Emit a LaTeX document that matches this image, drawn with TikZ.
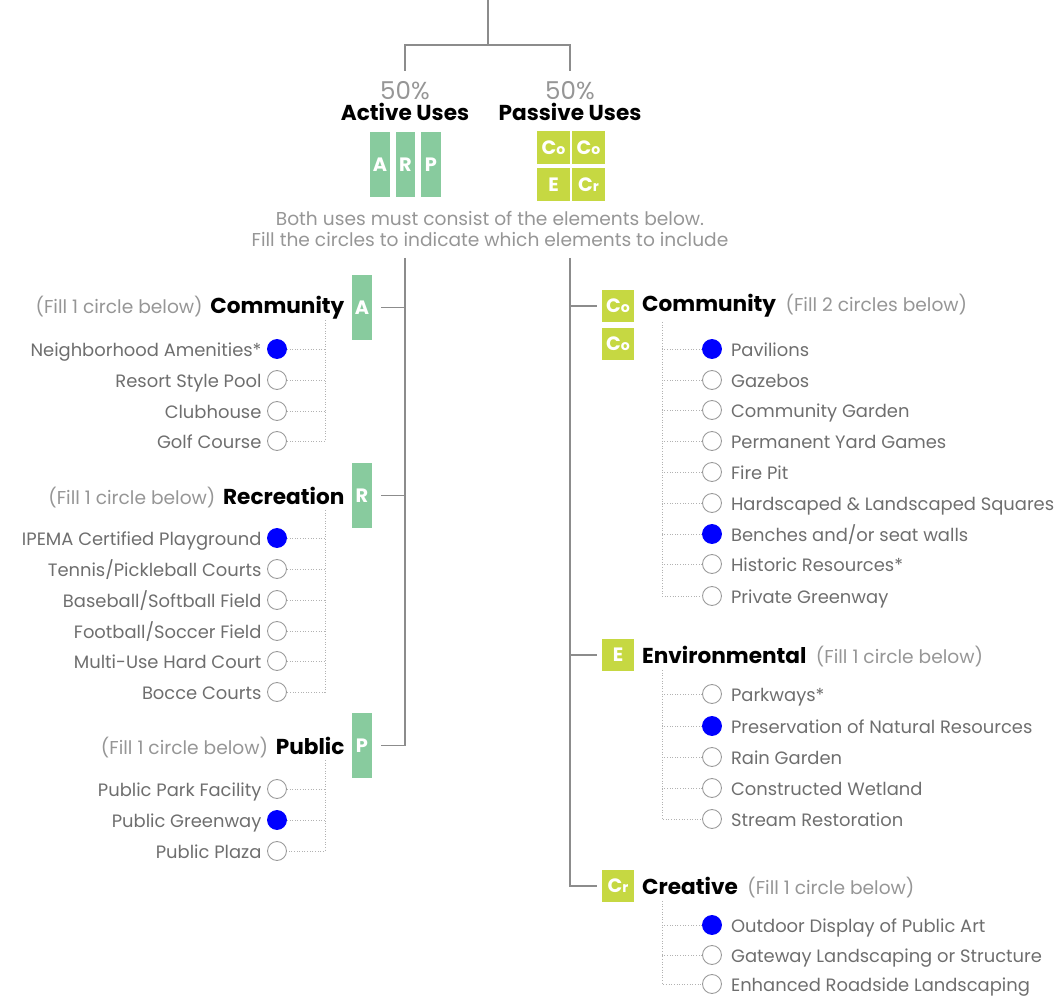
\documentclass[tikz,border=0pt]{standalone}
\usepackage{fontspec}
\setmainfont{Poppins}
\usetikzlibrary{positioning}

\definecolor{activegreen}{RGB}{136,203,158}
\definecolor{passivelime}{RGB}{198,216,66}
\definecolor{trunkgray}{RGB}{140,140,140}
\definecolor{labelgray}{RGB}{110,110,110}
\definecolor{hintgray}{RGB}{150,150,150}
\definecolor{pickblue}{RGB}{0,0,255}

\begin{document}
\begin{tikzpicture}[x=0.02cm,y=-0.02cm]
                \tikzset{trunk/.style = {draw=trunkgray, line width=1.1pt}}
                \tikzset{twig/.style = {draw=black!30, densely dotted, line width=0.5pt}}
                \tikzset{pick/.style = {shape=circle, draw=black!40, line width=0.5pt, minimum size=10.8pt, inner sep=0pt}}
                \tikzset{picked/.style = {pick, draw=pickblue, fill=pickblue}}
                \tikzset{item/.style = {text=labelgray, font=\fontsize{10.2}{12}\selectfont, inner sep=2pt, text height=9.2pt, text depth=1pt}}
                \tikzset{title/.style = {font=\fontsize{12.3}{14}\selectfont\bfseries, inner sep=1pt}}
                \tikzset{hint/.style = {text=hintgray, font=\fontsize{10.6}{12}\selectfont, inner sep=1pt}}
                \tikzset{abox/.style = {fill=activegreen, text=white, font=\fontsize{11}{12}\selectfont\bfseries, minimum width=11.3pt, minimum height=37pt, inner sep=0pt}}
                \tikzset{pbox/.style = {fill=passivelime, text=white, font=\fontsize{11}{12}\selectfont\bfseries, minimum size=18.7pt, inner sep=0pt}}
                \newcommand{\sm}[1]{{\fontsize{8}{9}\selectfont #1}}

                \useasboundingbox (0,0) rectangle (1059,999);

                % top split
                \coordinate (root) at (488,0);
                \coordinate (split) at (488,45);
                \node[text=hintgray, font=\fontsize{14}{16}\selectfont, inner sep=0pt] (pctA) at (405,91) {50\%};
                \node[text=hintgray, font=\fontsize{14}{16}\selectfont, inner sep=0pt] (pctP) at (570,91) {50\%};
                \node[title] (headA) at (405,112) {Active Uses};
                \node[title] (headP) at (570,112) {Passive Uses};

                \draw[trunk] (root) -- (split);
                \draw[trunk, shorten >=6pt] (split) -| (pctA.north);
                \draw[trunk, shorten >=6pt] (split) -| (pctP.north);

                \node[abox] (bA) at (380,164.5) {A};
                \node[abox] (bR) at (405.5,164.5) {R};
                \node[abox] (bP) at (431,164.5) {P};
                \node[pbox] (bCo) at (553.5,147.5) {C\sm{o}};
                \node[pbox] (bCoo) at (588.5,147.5) {C\sm{o}};
                \node[pbox] (bE) at (553.5,184.5) {E};
                \node[pbox] (bCr) at (588.5,184.5) {C\sm{r}};

                \node[hint, align=center, font=\fontsize{10.6}{12.4}\selectfont] (note) at (490,229) {Both uses must consist of the elements below.\\Fill the circles to indicate which elements to include};

                % active side
                \coordinate (lTop) at (405,258);
                \node[abox] (sA) at (362,307.5) {A};
                \node[abox] (sR) at (362,495.5) {R};
                \node[abox] (sP) at (362,745.5) {P};

                \draw[trunk] (lTop) |- ([xshift=5pt]sP.east);
                \draw[trunk] (lTop |- sA.east) -- ([xshift=5pt]sA.east);
                \draw[trunk] (lTop |- sR.east) -- ([xshift=5pt]sR.east);

                \node[title, left=3pt of sA] (tA) {Community};
                \node[hint, base left=2pt of tA] (hA) {(Fill 1 circle below)};
                \node[title, left=3pt of sR] (tR) {Recreation};
                \node[hint, base left=2pt of tR] (hR) {(Fill 1 circle below)};
                \node[title, left=3pt of sP] (tP) {Public};
                \node[hint, base left=2pt of tP] (hP) {(Fill 1 circle below)};

                \node[picked] (a1) at (277,349) {};
                \node[pick] (a2) at (277,380) {};
                \node[pick] (a3) at (277,411) {};
                \node[pick] (a4) at (277,441) {};
                \node[item, left=1pt of a1] {Neighborhood Amenities*};
                \node[item, left=1pt of a2] {Resort Style Pool};
                \node[item, left=1pt of a3] {Clubhouse};
                \node[item, left=1pt of a4] {Golf Course};
                \coordinate (aTop) at (325,320);
                \draw[twig] (aTop) |- (a4);
                \draw[twig] (a1) -- (a1 -| aTop);
                \draw[twig] (a2) -- (a2 -| aTop);
                \draw[twig] (a3) -- (a3 -| aTop);

                \node[picked] (r1) at (277,538) {};
                \node[pick] (r2) at (277,569) {};
                \node[pick] (r3) at (277,600) {};
                \node[pick] (r4) at (277,631) {};
                \node[pick] (r5) at (277,661) {};
                \node[pick] (r6) at (277,692) {};
                \node[item, left=1pt of r1] {IPEMA Certified Playground};
                \node[item, left=1pt of r2] {Tennis/Pickleball Courts};
                \node[item, left=1pt of r3] {Baseball/Softball Field};
                \node[item, left=1pt of r4] {Football/Soccer Field};
                \node[item, left=1pt of r5] {Multi-Use Hard Court};
                \node[item, left=1pt of r6] {Bocce Courts};
                \coordinate (rTop) at (325,510);
                \draw[twig] (rTop) |- (r6);
                \draw[twig] (r1) -- (r1 -| rTop);
                \draw[twig] (r2) -- (r2 -| rTop);
                \draw[twig] (r3) -- (r3 -| rTop);
                \draw[twig] (r4) -- (r4 -| rTop);
                \draw[twig] (r5) -- (r5 -| rTop);

                \node[pick] (p1) at (277,789) {};
                \node[picked] (p2) at (277,820) {};
                \node[pick] (p3) at (277,851) {};
                \node[item, left=1pt of p1] {Public Park Facility};
                \node[item, left=1pt of p2] {Public Greenway};
                \node[item, left=1pt of p3] {Public Plaza};
                \coordinate (pTop) at (325,760);
                \draw[twig] (pTop) |- (p3);
                \draw[twig] (p1) -- (p1 -| pTop);
                \draw[twig] (p2) -- (p2 -| pTop);

                % passive side
                \coordinate (mTop) at (570,258);
                \node[pbox] (sCo) at (618,306) {C\sm{o}};
                \node[pbox] (sCoo) at (618,344) {C\sm{o}};
                \node[pbox] (sE) at (618,655) {E};
                \node[pbox] (sCr) at (618,886) {C\sm{r}};

                \draw[trunk] (mTop) |- ([xshift=-2.5pt]sCr.west);
                \draw[trunk] (mTop |- sCo.west) -- ([xshift=-2.5pt]sCo.west);
                \draw[trunk] (mTop |- sE.west) -- ([xshift=-2.5pt]sE.west);

                \node[title, right=3pt of sCo] (tC) {Community};
                \node[hint, base right=3pt of tC] (hC) {(Fill 2 circles below)};
                \node[title, right=3pt of sE] (tE) {Environmental};
                \node[hint, base right=3pt of tE] (hE) {(Fill 1 circle below)};
                \node[title, right=3pt of sCr] (tCr) {Creative};
                \node[hint, base right=3pt of tCr] (hCr) {(Fill 1 circle below)};

                \node[picked] (c1) at (712,349) {};
                \node[pick] (c2) at (712,380) {};
                \node[pick] (c3) at (712,410) {};
                \node[pick] (c4) at (712,441) {};
                \node[pick] (c5) at (712,472) {};
                \node[pick] (c6) at (712,503) {};
                \node[picked] (c7) at (712,534) {};
                \node[pick] (c8) at (712,564) {};
                \node[pick] (c9) at (712,596) {};
                \node[item, right=3pt of c1] {Pavilions};
                \node[item, right=3pt of c2] {Gazebos};
                \node[item, right=3pt of c3] {Community Garden};
                \node[item, right=3pt of c4] {Permanent Yard Games};
                \node[item, right=3pt of c5] {Fire Pit};
                \node[item, right=3pt of c6] {Hardscaped \& Landscaped Squares};
                \node[item, right=3pt of c7] {Benches and/or seat walls};
                \node[item, right=3pt of c8] {Historic Resources*};
                \node[item, right=3pt of c9] {Private Greenway};
                \coordinate (cTop) at (662,322);
                \draw[twig] (cTop) |- (c9);
                \draw[twig] (c1) -- (c1 -| cTop);
                \draw[twig] (c2) -- (c2 -| cTop);
                \draw[twig] (c3) -- (c3 -| cTop);
                \draw[twig] (c4) -- (c4 -| cTop);
                \draw[twig] (c5) -- (c5 -| cTop);
                \draw[twig] (c6) -- (c6 -| cTop);
                \draw[twig] (c7) -- (c7 -| cTop);
                \draw[twig] (c8) -- (c8 -| cTop);

                \node[pick] (e1) at (712,694) {};
                \node[picked] (e2) at (712,726) {};
                \node[pick] (e3) at (712,757) {};
                \node[pick] (e4) at (712,788) {};
                \node[pick] (e5) at (712,819) {};
                \node[item, right=3pt of e1] {Parkways*};
                \node[item, right=3pt of e2] {Preservation of Natural Resources};
                \node[item, right=3pt of e3] {Rain Garden};
                \node[item, right=3pt of e4] {Constructed Wetland};
                \node[item, right=3pt of e5] {Stream Restoration};
                \coordinate (eTop) at (662,670);
                \draw[twig] (eTop) |- (e5);
                \draw[twig] (e1) -- (e1 -| eTop);
                \draw[twig] (e2) -- (e2 -| eTop);
                \draw[twig] (e3) -- (e3 -| eTop);
                \draw[twig] (e4) -- (e4 -| eTop);

                \node[picked] (k1) at (712,925) {};
                \node[pick] (k2) at (712,955) {};
                \node[pick] (k3) at (712,984) {};
                \node[item, right=3pt of k1] {Outdoor Display of Public Art};
                \node[item, right=3pt of k2] {Gateway Landscaping or Structure};
                \node[item, right=3pt of k3] {Enhanced Roadside Landscaping};
                \coordinate (kTop) at (662,901);
                \draw[twig] (kTop) |- (k3);
                \draw[twig] (k1) -- (k1 -| kTop);
                \draw[twig] (k2) -- (k2 -| kTop);

        \end{tikzpicture}
\end{document}
